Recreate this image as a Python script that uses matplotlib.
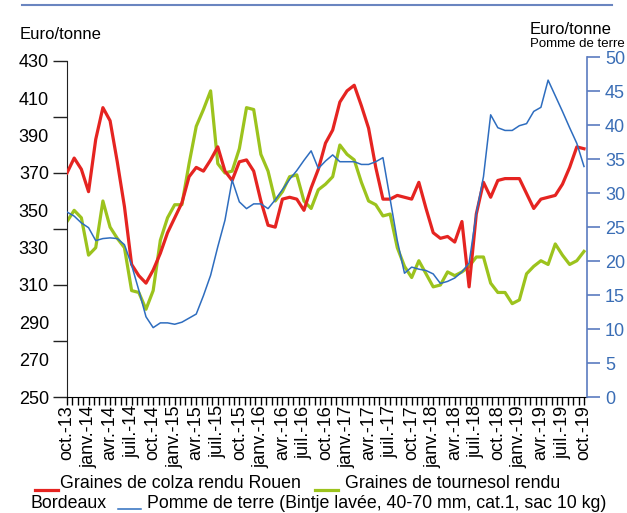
import matplotlib

matplotlib.use("Agg")
import matplotlib.pyplot as plt
from matplotlib.lines import Line2D
from matplotlib.ticker import MultipleLocator

plt.rcParams["font.family"] = ["Liberation Sans", "DejaVu Sans"]

# Monthly prices, oct. 2013 -> oct. 2019
TICK_LABELS = [
    "oct.-13", "janv.-14", "avr.-14", "juil.-14", "oct.-14",
    "janv.-15", "avr.-15", "juil.-15", "oct.-15",
    "janv.-16", "avr.-16", "juil.-16", "oct.-16",
    "janv.-17", "avr.-17", "juil.-17", "oct.-17",
    "janv.-18", "avr.-18", "juil.-18", "oct.-18",
    "janv.-19", "avr.-19", "juil.-19", "oct.-19",
]

# Euro/tonne, left axis
COLZA = [
    370, 378, 372, 360, 388, 405, 398, 376, 352, 321,
    315, 311, 318, 327, 338, 346, 354, 368, 373, 371,
    377, 384, 371, 366, 376, 377, 371, 355, 342, 341,
    356, 357, 356, 350, 362, 372, 386, 393, 408, 414,
    417, 406, 394, 373, 356, 356, 358, 357, 356, 365,
    351, 338, 335, 336, 333, 344, 309, 348, 365, 357,
    366, 367, 367, 367, 359, 351, 356, 357, 358, 364,
    373, 384, 383,
]
TOURNESOL = [
    344, 350, 346, 326, 330, 355, 341, 335, 330, 307,
    306, 297, 307, 334, 346, 353, 353, 375, 395, 404,
    414, 375, 370, 371, 383, 405, 404, 380, 371, 355,
    360, 368, 369, 355, 351, 361, 364, 368, 385, 380,
    377, 365, 355, 353, 347, 348, 330, 320, 314, 323,
    316, 309, 310, 317, 315, 317, 320, 325, 325, 311,
    306, 306, 300, 302, 316, 320, 323, 321, 332, 326,
    321, 323, 328,
]
# Euro/tonne, right axis
POMME = [
    27.2, 26.6, 25.6, 24.9, 23.0, 23.3, 23.4, 23.3, 22.4, 19.4,
    15.7, 11.8, 10.2, 10.9, 10.9, 10.7, 11.0, 11.6, 12.2, 14.9,
    17.9, 22.1, 26.0, 31.9, 28.7, 27.7, 28.4, 28.4, 27.7, 29.0,
    30.5, 32.0, 33.3, 34.8, 36.2, 33.6, 34.7, 35.6, 34.6, 34.6,
    34.6, 34.2, 34.2, 34.6, 35.2, 29.1, 23.0, 18.2, 19.1, 18.8,
    18.6, 18.1, 16.7, 17.0, 17.5, 18.4, 19.7, 27.0, 32.4, 41.5,
    39.6, 39.2, 39.2, 39.9, 40.2, 42.0, 42.6, 46.6, 44.3, 42.0,
    39.6, 37.3, 33.9,
]

RED = "#e52421"
GREEN = "#9cc31d"
BLUE = "#2e6dbf"
AXIS_BLUE = "#5b7cc0"
LABEL_BLUE = "#3a6db5"

W, H = 627, 513
LEGEND_SIZE = 12.8


def fx(px):
    return px / W


def fy(py):
    return 1 - py / H


def legend_item(fig, x0, y, color, lw, label, text_x):
    fig.add_artist(Line2D([fx(x0), fx(x0 + 23)], [fy(y + 6)] * 2, color=color, lw=lw))
    fig.text(fx(text_x), fy(y), label, fontsize=LEGEND_SIZE, va="center", ha="left")


def plot_prices():
    fig = plt.figure(figsize=(W / 100, H / 100), dpi=100)
    ax = fig.add_axes([fx(67), fy(397), (587 - 67) / W, (397 - 57) / H])
    months = list(range(len(COLZA)))

    ax.plot(months, TOURNESOL, color=GREEN, lw=2.3, zorder=2)
    ax.plot(months, COLZA, color=RED, lw=2.3, zorder=3)
    ax.set_xlim(0, len(COLZA) - 1 + 3 / 7.18)
    ax.set_ylim(250, 250 + 340 / 1.8667)

    ax2 = ax.twinx()
    ax2.plot(months, POMME, color=BLUE, lw=1.1)
    ax2.set_ylim(0, 50)

    for side in ["top", "right"]:
        ax.spines[side].set_visible(False)
    ax.spines["left"].set_bounds(250, 430)
    ax.spines["left"].set_color("#222222")

    # labels every 20, tick marks every 30 (as in the original)
    ax.yaxis.remove_overlapping_locs = False
    ax.set_yticks(range(250, 431, 20))
    ax.set_yticklabels([str(v) for v in range(250, 431, 20)])
    ax.set_yticks(range(250, 431, 30), minor=True)
    ax.tick_params(axis="y", which="major", length=0, pad=13, labelsize=13)
    ax.tick_params(axis="y", which="minor", length=10, width=1, color="#222222")

    ax.xaxis.remove_overlapping_locs = False
    ax.set_xticks(range(0, len(COLZA), 3))
    ax.set_xticklabels(TICK_LABELS, rotation=90)
    ax.xaxis.set_minor_locator(MultipleLocator(0.75))
    ax.tick_params(axis="x", which="major", length=0, pad=6, labelsize=13)
    ax.tick_params(axis="x", which="minor", length=6, width=1)

    for side in ["top", "left", "bottom"]:
        ax2.spines[side].set_visible(False)
    ax2.spines["right"].set_color(AXIS_BLUE)
    ax2.spines["right"].set_linewidth(1.2)
    ax2.set_yticks(range(0, 51, 5))
    ax2.tick_params(axis="y", length=9, width=1.2, color=AXIS_BLUE,
                    labelcolor=LABEL_BLUE, labelsize=13, pad=4)

    # header
    fig.add_artist(Line2D([fx(22), fx(612)], [fy(5)] * 2, color="#6a85c0", lw=1.5))
    fig.text(fx(20), fy(35), "Euro/tonne", fontsize=12, va="center")
    fig.text(fx(530), fy(29), "Euro/tonne", fontsize=12, va="center")
    fig.text(fx(530), fy(44), "Pomme de terre", fontsize=9.5, va="center")

    # legend, laid out on two lines like the original
    legend_item(fig, 35, 484, RED, 2.3, "Graines de colza rendu Rouen", 60)
    legend_item(fig, 315, 484, GREEN, 2.3, "Graines de tournesol rendu", 345)
    fig.text(fx(30), fy(503), "Bordeaux", fontsize=LEGEND_SIZE, va="center", ha="left")
    legend_item(fig, 118, 503, BLUE, 1.1,
                "Pomme de terre (Bintje lavée, 40-70 mm, cat.1, sac 10 kg)", 147)

    fig.savefig("out.png", dpi=100)
    plt.close(fig)


def main():
    plot_prices()


if __name__ == "__main__":
    main()
